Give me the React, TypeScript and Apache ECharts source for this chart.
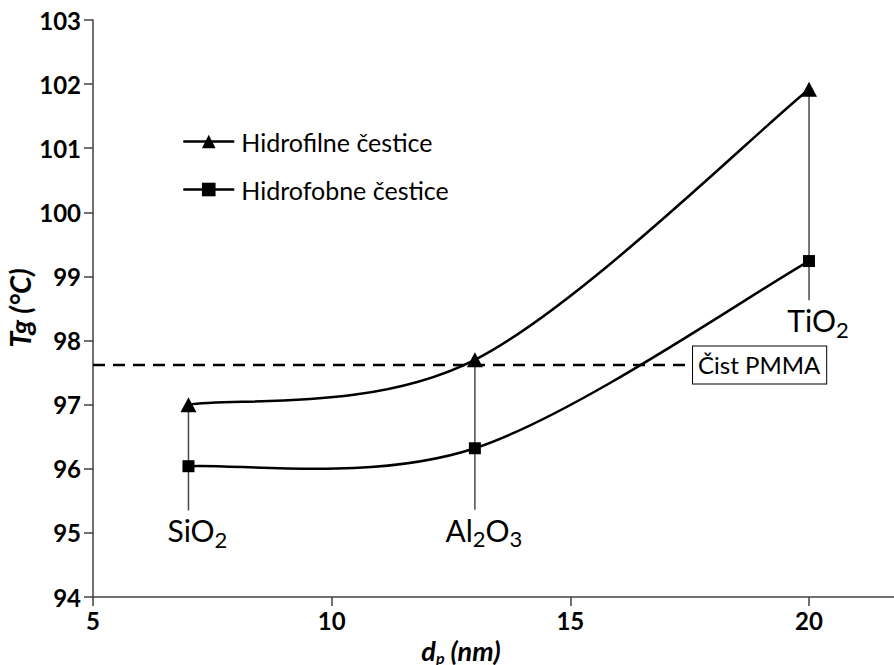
import React, { useEffect, useRef } from "react";
import * as echarts from "echarts";

// ---- data ----
const particleSizes = [7, 13, 20]; // d_p (nm)
const oxideNames = ["SiO2", "Al2O3", "TiO2"];
const hydrophilic = [97.0, 97.7, 101.92]; // Hidrofilne čestice
const hydrophobic = [96.04, 96.32, 99.24]; // Hidrofobne čestice
const connectorEnds = [95.35, 95.36, 98.63]; // lower end of the vertical label lines
const pmmaTg = 97.62;
const seriesNames = ["Hidrofilne čestice", "Hidrofobne čestice"];
const pmmaLabel = "Čist PMMA";
const xTicks = [5, 10, 15, 20];
const yMin = 94;
const yMax = 103;

const FONT = "Lato, 'Open Sans', sans-serif";

function toRich(name: string) {
  return name
    .split(/(\d+)/)
    .filter((s) => s.length)
    .map((s) => (/^\d+$/.test(s) ? `{s|${s}}` : `{m|${s}}`))
    .join("");
}

function splineSegments(pts: number[][], style: any) {
  const segs: any[] = [];
  for (let i = 0; i < pts.length - 1; i++) {
    const p0 = pts[i];
    const p1 = pts[i + 1];
    const prev = pts[i - 1] || p0;
    const next = pts[i + 2] || p1;
    segs.push({
      type: "bezierCurve",
      shape: {
        x1: p0[0],
        y1: p0[1],
        x2: p1[0],
        y2: p1[1],
        cpx1: p0[0] + (p1[0] - prev[0]) / 6,
        cpy1: p0[1] + (p1[1] - prev[1]) / 6,
        cpx2: p1[0] - (next[0] - p0[0]) / 6,
        cpy2: p1[1] - (next[1] - p0[1]) / 6,
      },
      style,
    });
  }
  return segs;
}

export default function App() {
  const ref = useRef<HTMLDivElement>(null);
  useEffect(() => {
    if (!ref.current) return;
    const chart = echarts.init(ref.current, undefined, { renderer: "svg" });
    const curveStyle = { stroke: "#000", lineWidth: 2.5, fill: "none" };
    const option: any = {
      animation: false,
      backgroundColor: "#fff",
      grid: { left: 93, right: 0, top: 20, bottom: 68, containLabel: false },
      xAxis: {
        type: "value",
        min: 5,
        max: 21.78,
        interval: 5,
        splitLine: { show: false },
        axisLine: { lineStyle: { color: "#404040", width: 1.5 } },
        axisTick: { length: 9, lineStyle: { color: "#404040", width: 1.5 }, customValues: xTicks },
        axisLabel: {
          customValues: xTicks,
          fontFamily: FONT,
          fontWeight: "bold",
          fontSize: 24,
          color: "#000",
          margin: 11,
        },
      },
      yAxis: {
        type: "value",
        min: yMin,
        max: yMax,
        interval: 1,
        splitLine: { show: false },
        axisLine: { show: true, lineStyle: { color: "#404040", width: 1.5 } },
        axisTick: { show: true, length: 9, lineStyle: { color: "#404040", width: 1.5 } },
        axisLabel: {
          fontFamily: FONT,
          fontWeight: "bold",
          fontSize: 24,
          color: "#000",
          margin: 12,
        },
      },
      legend: {
        orient: "vertical",
        left: 177,
        top: 124,
        itemWidth: 51,
        itemHeight: 17,
        itemGap: 23,
        data: seriesNames,
        lineStyle: { opacity: 1, color: "#000", width: 2.5 },
        itemStyle: { color: "#000" },
        textStyle: {
          fontFamily: FONT,
          fontSize: 25,
          lineHeight: 25,
          color: "#000",
          padding: [0, 0, 0, 2],
        },
      },
      graphic: [
        {
          type: "text",
          x: 19,
          y: 308,
          rotation: Math.PI / 2,
          style: {
            text: "Tg (°C)",
            font: `italic bold 29px ${FONT}`,
            fill: "#000",
            align: "center",
            verticalAlign: "middle",
          },
        },
        {
          type: "text",
          x: 461,
          y: 650,
          style: {
            text: "{i|d}{p|p}{i| (nm)}",
            align: "center",
            verticalAlign: "middle",
            rich: {
              i: { fontFamily: FONT, fontStyle: "italic", fontWeight: "bold", fontSize: 27, lineHeight: 30, fill: "#000" },
              p: {
                fontFamily: FONT,
                fontStyle: "italic",
                fontWeight: "bold",
                fontSize: 16,
                lineHeight: 16,
                padding: [14, 0, 0, 0],
                verticalAlign: "top",
                fill: "#000",
              },
            },
          },
        },
      ],
      series: [
        // vertical label lines + oxide labels
        {
          type: "custom",
          silent: true,
          z: 1,
          data: particleSizes.map((x, i) => [x, connectorEnds[i], hydrophilic[i]]),
          renderItem: (params: any, api: any) => {
            const top = api.coord([api.value(0), api.value(2)]);
            const bot = api.coord([api.value(0), api.value(1)]);
            return {
              type: "group",
              children: [
                {
                  type: "line",
                  shape: { x1: top[0], y1: top[1], x2: bot[0], y2: bot[1] },
                  style: { stroke: "#4a4a4a", lineWidth: 1.5 },
                },
                {
                  type: "text",
                  x: bot[0] + 9,
                  y: bot[1] + 2,
                  style: {
                    text: toRich(oxideNames[params.dataIndex]),
                    align: "center",
                    verticalAlign: "top",
                    rich: {
                      m: { fontFamily: FONT, fontSize: 30, lineHeight: 36, fill: "#000" },
                      s: {
                        fontFamily: FONT,
                        fontSize: 22,
                        lineHeight: 20,
                        padding: [16, 0, 0, 0],
                        verticalAlign: "top",
                        fill: "#000",
                      },
                    },
                  },
                },
              ],
            };
          },
        },
        // PMMA dashed reference line with boxed label
        {
          type: "custom",
          silent: true,
          z: 1,
          data: [[5, pmmaTg]],
          renderItem: (params: any, api: any) => {
            const a = api.coord([api.value(0), api.value(1)]);
            const b = api.coord([17.57, api.value(1)]);
            return {
              type: "group",
              children: [
                {
                  type: "line",
                  shape: { x1: a[0], y1: a[1], x2: b[0], y2: b[1] },
                  style: { stroke: "#000", lineWidth: 2.5, lineDash: [12, 8] },
                },
                {
                  type: "text",
                  x: b[0],
                  y: b[1],
                  style: {
                    text: pmmaLabel,
                    fontFamily: FONT,
                    fontSize: 24,
                    lineHeight: 29,
                    fill: "#000",
                    align: "left",
                    verticalAlign: "middle",
                    backgroundColor: "#fff",
                    borderColor: "#000",
                    borderWidth: 1,
                    padding: [4, 6, 4, 5],
                  },
                },
              ],
            };
          },
        },
        // smooth curves
        {
          type: "custom",
          silent: true,
          z: 2,
          data: [[particleSizes[0], hydrophilic[0]]],
          renderItem: (params: any, api: any) => {
            const p1 = particleSizes.map((x, i) => api.coord([x, hydrophilic[i]]));
            const p2 = particleSizes.map((x, i) => api.coord([x, hydrophobic[i]]));
            return {
              type: "group",
              children: [...splineSegments(p1, curveStyle), ...splineSegments(p2, curveStyle)],
            };
          },
        },
        // markers (legend entries)
        {
          name: seriesNames[0],
          type: "line",
          z: 3,
          data: particleSizes.map((x, i) => [x, hydrophilic[i]]),
          symbol: "triangle",
          symbolSize: [16, 15],
          showAllSymbol: true,
          itemStyle: { color: "#000" },
          lineStyle: { opacity: 0, color: "#000", width: 2.5 },
        },
        {
          name: seriesNames[1],
          type: "line",
          z: 3,
          data: particleSizes.map((x, i) => [x, hydrophobic[i]]),
          symbol: "rect",
          symbolSize: 12,
          showAllSymbol: true,
          itemStyle: { color: "#000" },
          lineStyle: { opacity: 0, color: "#000", width: 2.5 },
        },
      ],
    };
    chart.setOption(option);
    return () => chart.dispose();
  }, []);
  return (
    <div
      ref={ref}
      style={{ position: "fixed", left: 0, top: 0, width: 894, height: 665, background: "#fff" }}
    />
  );
}
